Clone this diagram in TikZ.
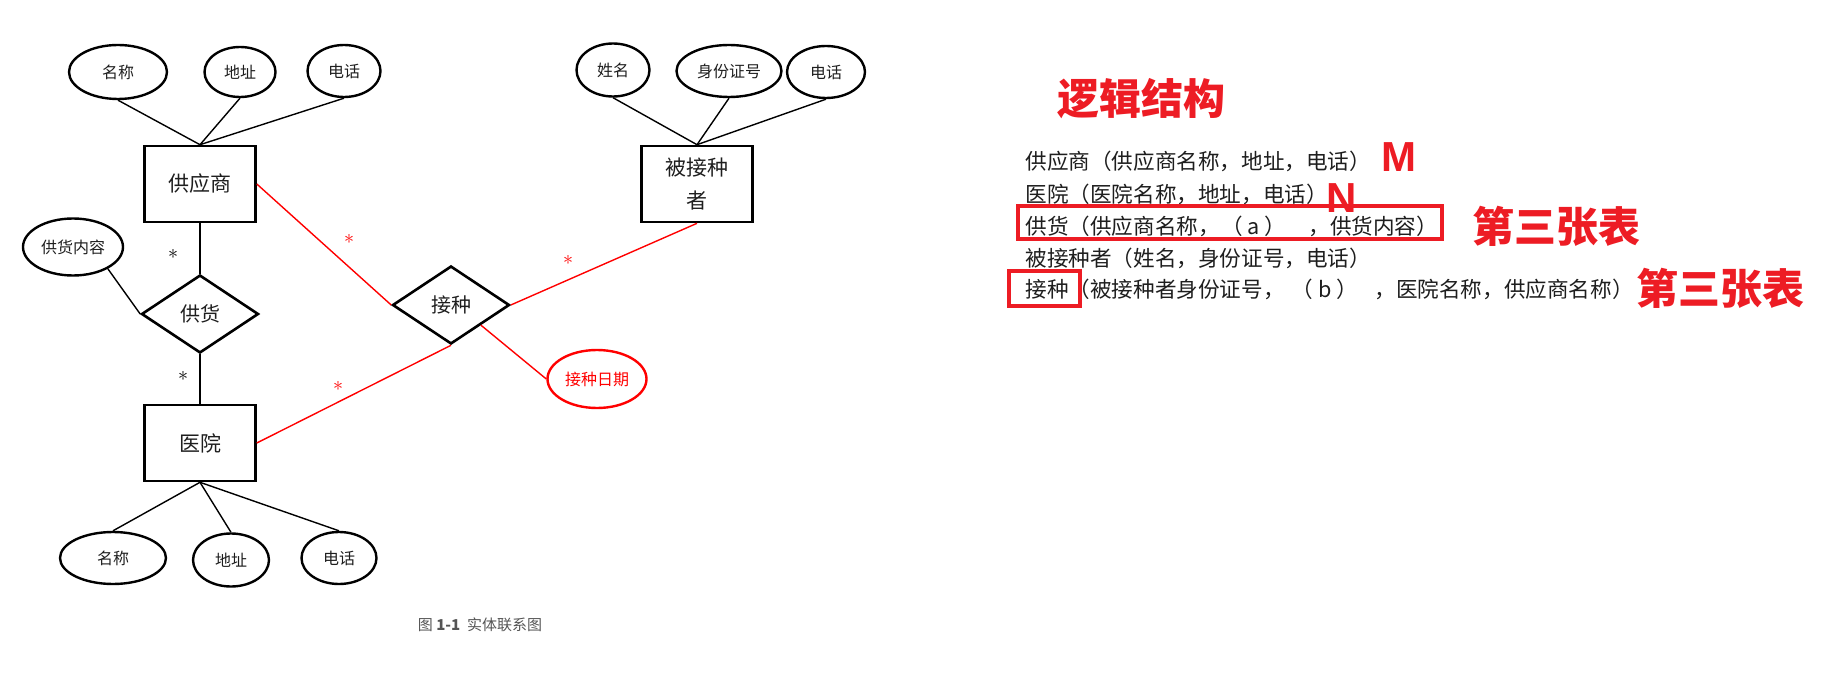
\documentclass[tikz,border=0pt]{standalone}
\usepackage{fontspec}
\newfontfamily\cjk{Noto Sans CJK SC}
\newfontfamily\lsans{Liberation Sans}
\usetikzlibrary{shapes.geometric}
\definecolor{bigred}{RGB}{237,28,36}
\definecolor{txt}{RGB}{30,30,30}
\definecolor{capgray}{RGB}{85,85,85}
\begin{document}
\begin{tikzpicture}[x=0.5pt,y=-0.5pt,
  ent/.style={draw, line width=1.3pt, rectangle, minimum width=55.5pt, minimum height=38pt, inner sep=0pt, font=\cjk\fontsize{10.5}{16.5}\selectfont, text=txt, align=center},
  attr/.style={draw, line width=1.2pt, ellipse, inner sep=0pt, font=\cjk\fontsize{8}{10}\selectfont, text=txt},
  rel/.style={draw, line width=1.3pt, diamond, aspect=1.5, minimum width=58.5pt, minimum height=39pt, inner sep=0pt, font=\cjk\fontsize{10}{12}\selectfont, text=txt},
  link/.style={line width=0.7pt, draw=black},
  redlink/.style={line width=0.7pt, draw=red},
  star/.style={font=\fontsize{10}{12}\selectfont, inner sep=0pt},
  row/.style={anchor=west, inner sep=0pt, font=\cjk\fontsize{10.8}{12}\selectfont, text=txt},
  piece/.style={inner sep=0pt, font=\cjk\fontsize{10.8}{12}\selectfont, text=txt},
  big/.style={inner sep=0pt, font=\cjk\bfseries\fontsize{21}{24}\selectfont, text=bigred},
  letter/.style={inner sep=0pt, font=\lsans\bfseries\fontsize{21}{24}\selectfont, text=bigred},
  redbox/.style={draw=bigred, line width=1.7pt}
]
\useasboundingbox (0,0) rectangle (1835,684);

% entities
\node[ent] (sup) at (200,184) {供应商};
\node[ent] (hos) at (200,443) {医院};
\node[ent] (per) at (697,184) {被接种\\者};

% relations
\node[rel] (ghr) at (200,314) {供货};
\node[rel] (jz) at (451,305) {接种};

% attributes
\node[attr, minimum width=49pt, minimum height=27pt] (sn) at (118,72) {名称};
\node[attr, minimum width=35.5pt, minimum height=25pt] (sa) at (240,72) {地址};
\node[attr, minimum width=36.5pt, minimum height=26pt] (st) at (344,71) {电话};
\node[attr, minimum width=50pt, minimum height=28.5pt] (gh) at (73,247) {供货内容};
\node[attr, minimum width=36.5pt, minimum height=26.5pt] (pn) at (613,70) {姓名};
\node[attr, minimum width=52.5pt, minimum height=26pt] (pid) at (729,71) {身份证号};
\node[attr, minimum width=39pt, minimum height=26pt] (pt) at (826,72) {电话};
\node[attr, minimum width=53pt, minimum height=26pt] (hn) at (113,558) {名称};
\node[attr, minimum width=38pt, minimum height=26.5pt] (ha) at (231,560) {地址};
\node[attr, minimum width=37.5pt, minimum height=26pt] (ht) at (339,558) {电话};
\node[attr, draw=red, text=red, minimum width=49.5pt, minimum height=29pt] (jd) at (597,379) {接种日期};

% attribute links
\draw[link] (sn.south) -- (sup.north);
\draw[link] (sa.south) -- (sup.north);
\draw[link] (st.south) -- (sup.north);
\draw[link] (pn.south) -- (per.north);
\draw[link] (pid.south) -- (per.north);
\draw[link] (pt.south) -- (per.north);
\draw[link] (hos.south) -- (hn.north);
\draw[link] (hos.south) -- (ha.north);
\draw[link] (hos.south) -- (ht.north);
\draw[link] (gh.-32) -- (ghr.west);

% relationship links
\draw[link] (sup.south) -- (ghr.north);
\draw[link] (ghr.south) -- (hos.north);
\draw[redlink] (sup.east) -- (jz.west);
\draw[redlink] (per.south) -- (jz.east);
\draw[redlink] (hos.east) -- (jz.south);
\draw[redlink] (jz.south east) -- (jd.west);

% cardinalities
\node[star] (s1) at (173,257) {*};
\node[star] (s2) at (183,379) {*};
\node[star, text=red] (s3) at (349,242) {*};
\node[star, text=red] (s4) at (568,263) {*};
\node[star, text=red] (s5) at (338,389) {*};

% caption
\node[inner sep=0pt, font=\cjk\fontsize{7.5}{9}\selectfont, text=capgray] (cap) at (480,625) {图 \textbf{1-1}\ \ 实体联系图};

% logical structure
\node[big] (title) at (1141,99) {逻辑结构};
\node[row] (r1) at (1025,161) {供应商（供应商名称，地址，电话）};
\node[row] (r2) at (1025,194) {医院（医院名称，地址，电话）};
\node[row] (r3a) at (1025,226) {供货（供应商名称，};
\node[piece] (r3b) at (1254,226) {（ a ）};
\node[row] (r3c) at (1308,226) {，供货内容）};
\node[row] (r4) at (1025,258) {被接种者（姓名，身份证号，电话）};
\node[row] (r5a) at (1025,289) {接种（被接种者身份证号，};
\node[piece] (r5b) at (1325,289) {（ b ）};
\node[row] (r5c) at (1374,289) {，医院名称，供应商名称）};

\node[letter] (m) at (1399,157) {M};
\node[letter] (n) at (1342,198) {N};
\node[big] (t1) at (1556,226) {第三张表};
\node[big] (t2) at (1720,288) {第三张表};

\draw[redbox] (1018,206) rectangle (1442,239);
\draw[redbox] (1009,271) rectangle (1080,306);
\end{tikzpicture}
\end{document}
